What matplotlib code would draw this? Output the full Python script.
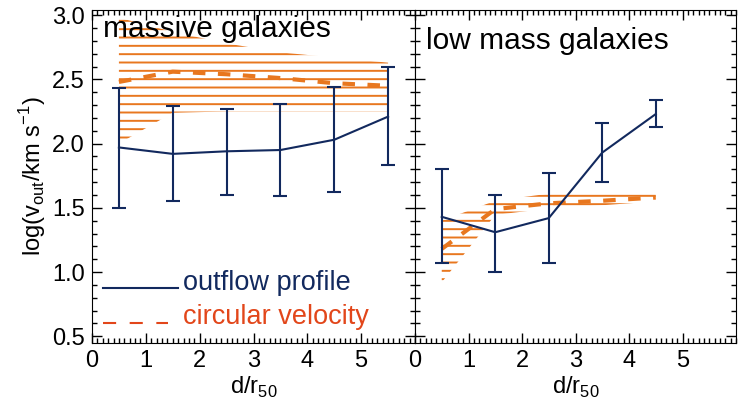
import matplotlib
matplotlib.use("Agg")
import matplotlib.pyplot as plt
from matplotlib.ticker import MultipleLocator, FormatStrFormatter
import numpy as np

plt.rcParams['font.family'] = ['Liberation Sans', 'DejaVu Sans']
plt.rcParams['hatch.linewidth'] = 1.4

navy = '#12295e'
orange = '#e8771f'
red_orange = '#e2461a'

# massive galaxies
dist_massive = [0.5, 1.5, 2.5, 3.5, 4.5, 5.5]
massive_vout = [1.97, 1.92, 1.94, 1.95, 2.03, 2.21]
massive_vout_hi = [2.43, 2.29, 2.27, 2.31, 2.44, 2.60]
massive_vout_lo = [1.50, 1.55, 1.60, 1.59, 1.62, 1.83]
massive_vcirc = [2.48, 2.56, 2.54, 2.51, 2.47, 2.45]
massive_vcirc_hi = [2.98, 2.87, 2.78, 2.71, 2.67, 2.63]
massive_vcirc_lo = [2.00, 2.24, 2.25, 2.25, 2.25, 2.25]

# low mass galaxies
dist_low = [0.5, 1.5, 2.5, 3.5, 4.5]
low_vout = [1.43, 1.31, 1.42, 1.93, 2.23]
low_vout_hi = [1.80, 1.60, 1.77, 2.16, 2.34]
low_vout_lo = [1.07, 1.00, 1.07, 1.70, 2.13]
low_vcirc = [1.18, 1.49, 1.535, 1.555, 1.58]
low_vcirc_hi = [1.40, 1.555, 1.61, 1.615, 1.62]
low_vcirc_lo = [0.92, 1.445, 1.495, 1.52, 1.55]

fig = plt.figure(figsize=(7.43, 4.08), dpi=100)
ax1 = fig.add_axes([92/743, 1-342.7/408, 323/743, 332.7/408])
ax2 = fig.add_axes([415/743, 1-342.7/408, 321/743, 332.7/408])


def draw_panel(ax, d, vout, hi, lo, vc, vc_hi, vc_lo, title, ty):
    d = np.array(d)
    vout = np.array(vout)
    ax.fill_between(d, vc_lo, vc_hi, facecolor='none', edgecolor=orange,
                    hatch='--', linewidth=0, zorder=1)
    ax.plot(d, vc, color=orange, lw=3, dashes=(3, 3), zorder=2)
    yerr = [vout - np.array(lo), np.array(hi) - vout]
    ax.errorbar(d, vout, yerr=yerr, color=navy, lw=1.5, elinewidth=1.5,
                capsize=5, capthick=1.5, zorder=3)
    ax.set_xlim(0, 6)
    ax.set_ylim(0.45, 3.04)
    ax.set_xticks(range(6))
    ax.xaxis.set_minor_locator(MultipleLocator(0.1))
    ax.yaxis.set_major_locator(MultipleLocator(0.5))
    ax.yaxis.set_minor_locator(MultipleLocator(0.1))
    ax.tick_params(which='both', direction='in', top=True, right=True,
                   labelsize=17, width=1)
    ax.tick_params(which='major', length=7, pad=5)
    ax.tick_params(which='minor', length=3.5)
    ax.set_xlabel(r'd/r$_{\mathregular{50}}$', fontsize=17, labelpad=2)
    ax.text(0.035, ty, title, transform=ax.transAxes, fontsize=21.5,
            va='baseline', ha='left')


draw_panel(ax1, dist_massive, massive_vout, massive_vout_hi, massive_vout_lo,
           massive_vcirc, massive_vcirc_hi, massive_vcirc_lo,
           'massive galaxies', 0.92)
draw_panel(ax2, dist_low, low_vout, low_vout_hi, low_vout_lo,
           low_vcirc, low_vcirc_hi, low_vcirc_lo,
           'low mass galaxies', 0.882)
ax1.yaxis.set_major_formatter(FormatStrFormatter('%.1f'))
ax2.tick_params(labelleft=False)
ax1.set_ylabel(r'log(v$_{\mathregular{out}}$/km s$^{\mathregular{-1}}$)',
               fontsize=17, labelpad=3)

# legend in the left panel
ax1.plot([0.034, 0.266], [0.1635, 0.1635], transform=ax1.transAxes,
         color=navy, lw=1.5)
ax1.text(0.282, 0.158, 'outflow profile', transform=ax1.transAxes,
         color=navy, fontsize=19.5, va='baseline')
ax1.plot([0.034, 0.235], [0.059, 0.059], transform=ax1.transAxes,
         color=red_orange, lw=1.5, dashes=(6.3, 6.5))
ax1.text(0.282, 0.056, 'circular velocity', transform=ax1.transAxes,
         color=red_orange, fontsize=19.5, va='baseline')

fig.savefig('out.png', dpi=100)
